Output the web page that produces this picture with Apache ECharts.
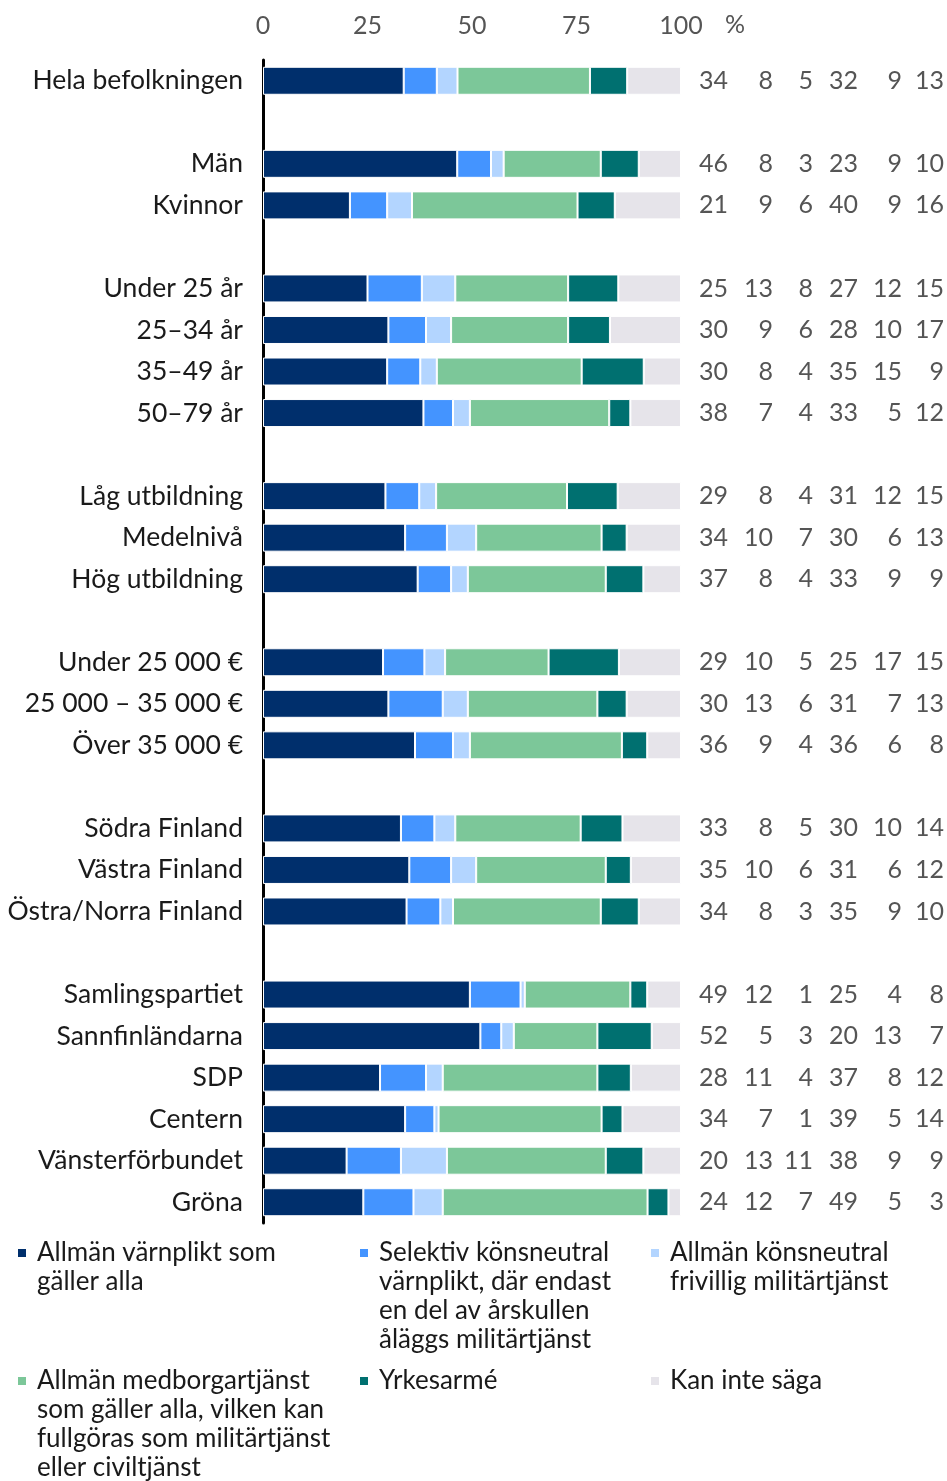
<!DOCTYPE html>
<html><head><meta charset="utf-8">
<script src="https://cdn.jsdelivr.net/npm/echarts@6/dist/echarts.min.js"></script>
<style>html,body{margin:0;padding:0;background:#fff}#c{width:947px;height:1481px}</style>
</head><body><div id="c"></div>
<script>
// null = spacer row between groups
const categories = ['Hela befolkningen', null, 'Män', 'Kvinnor', null,
  'Under 25 år', '25–34 år', '35–49 år', '50–79 år', null,
  'Låg utbildning', 'Medelnivå', 'Hög utbildning', null,
  'Under 25 000 €', '25 000 – 35 000 €', 'Över 35 000 €', null,
  'Södra Finland', 'Västra Finland', 'Östra/Norra Finland', null,
  'Samlingspartiet', 'Sannfinländarna', 'SDP', 'Centern', 'Vänsterförbundet', 'Gröna'];

const allmanVarnplikt = [34,null,46,21,null,25,30,30,38,null,29,34,37,null,29,30,36,null,33,35,34,null,49,52,28,34,20,24];
const selektiv        = [8,null,8,9,null,13,9,8,7,null,8,10,8,null,10,13,9,null,8,10,8,null,12,5,11,7,13,12];
const frivillig       = [5,null,3,6,null,8,6,4,4,null,4,7,4,null,5,6,4,null,5,6,3,null,1,3,4,1,11,7];
const medborgartjanst = [32,null,23,40,null,27,28,35,33,null,31,30,33,null,25,31,36,null,30,31,35,null,25,20,37,39,38,49];
const yrkesarme       = [9,null,9,9,null,12,10,15,5,null,12,6,9,null,17,7,6,null,10,6,9,null,4,13,8,5,9,5];
const kanInteSaga     = [13,null,10,16,null,15,17,9,12,null,15,13,9,null,15,13,8,null,14,12,10,null,8,7,12,14,9,3];

const xTicks = [0, 25, 50, 75, 100];
const seriesNames = [
  'Allmän värnplikt som\ngäller alla',
  'Selektiv könsneutral\nvärnplikt, där endast\nen del av årskullen\nåläggs militärtjänst',
  'Allmän könsneutral\nfrivillig militärtjänst',
  'Allmän medborgartjänst\nsom gäller alla, vilken kan\nfullgöras som militärtjänst\neller civiltjänst',
  'Yrkesarmé',
  'Kan inte säga'
];
const seriesData = [allmanVarnplikt, selektiv, frivillig, medborgartjanst, yrkesarme, kanInteSaga];
const colors = ['#002F6C', '#4494FF', '#B3D5FF', '#7CC799', '#007070', '#E6E4EA'];

const FONT = 'Lato';
const axisData = categories.map((c, i) => c === null ? 'gap' + i : c);
const colRight = [728, 773, 813, 858, 902, 944];
const gridRightX = 681;

// rounded shares are rescaled so every bar spans 0–100 like the reference
const rowSums = categories.map((c, i) => seriesData.reduce((s, arr) => s + (arr[i] || 0), 0));

const yAxes = [{
  type: 'category', data: axisData, inverse: true,
  axisTick: { show: false },
  axisLine: { show: true, lineStyle: { color: '#000', width: 3 } },
  axisLabel: { fontFamily: FONT, fontSize: 26.5, color: '#1a1a1a', margin: 20,
    formatter: (v, i) => categories[i] === null ? '' : categories[i] }
}];
seriesData.forEach((arr, k) => {
  yAxes.push({
    type: 'category', data: axisData, inverse: true, position: 'right', offset: 0,
    axisTick: { show: false }, axisLine: { show: false },
    axisLabel: { fontFamily: FONT, fontSize: 25, color: '#555', align: 'right',
      margin: colRight[k] - gridRightX,
      formatter: (v, i) => arr[i] === null ? '' : String(arr[i]) }
  });
});

const series = seriesData.map((arr, k) => ({
  name: seriesNames[k], type: 'bar', stack: 'total', yAxisIndex: 0,
  barWidth: 28,
  itemStyle: { color: colors[k], borderColor: '#fff', borderWidth: 1 },
  data: arr.map((v, i) => v === null ? '-' : v * 100 / rowSums[i]),
  silent: true
}));

// Legend drawn as graphic items (icon aligned with first text line)
const legendPos = [[18, 1253], [360, 1253], [651, 1253], [18, 1381], [360, 1381], [651, 1381]];
const graphic = [{
  type: 'text', left: 725, top: 12,
  style: { text: '%', fontFamily: FONT, fontSize: 25, fill: '#555' }
}];
seriesNames.forEach((n, k) => {
  const [x, y] = legendPos[k];
  graphic.push({ type: 'rect', shape: { x: x, y: y - 4, width: 8, height: 8 }, style: { fill: colors[k] } });
  graphic.push({ type: 'text', x: x + 19, y: y - 15,
    style: { text: n, fontFamily: FONT, fontSize: 26, lineHeight: 29, fill: '#1a1a1a', verticalAlign: 'top' } });
});

const chart = echarts.init(document.getElementById('c'), null, { renderer: 'canvas' });
chart.setOption({
  animation: false,
  grid: { left: 263, right: 947 - gridRightX, top: 60, bottom: 1481 - 1223, containLabel: false },
  xAxis: {
    type: 'value', position: 'top', min: 0, max: 100, interval: 25,
    axisLine: { show: false }, axisTick: { show: false }, splitLine: { show: false },
    axisLabel: { fontFamily: FONT, fontSize: 25, color: '#555', margin: 22,
      formatter: v => xTicks.includes(v) ? String(v) : '' }
  },
  yAxis: yAxes,
  series: series,
  graphic: graphic
});
</script>
</body></html>
